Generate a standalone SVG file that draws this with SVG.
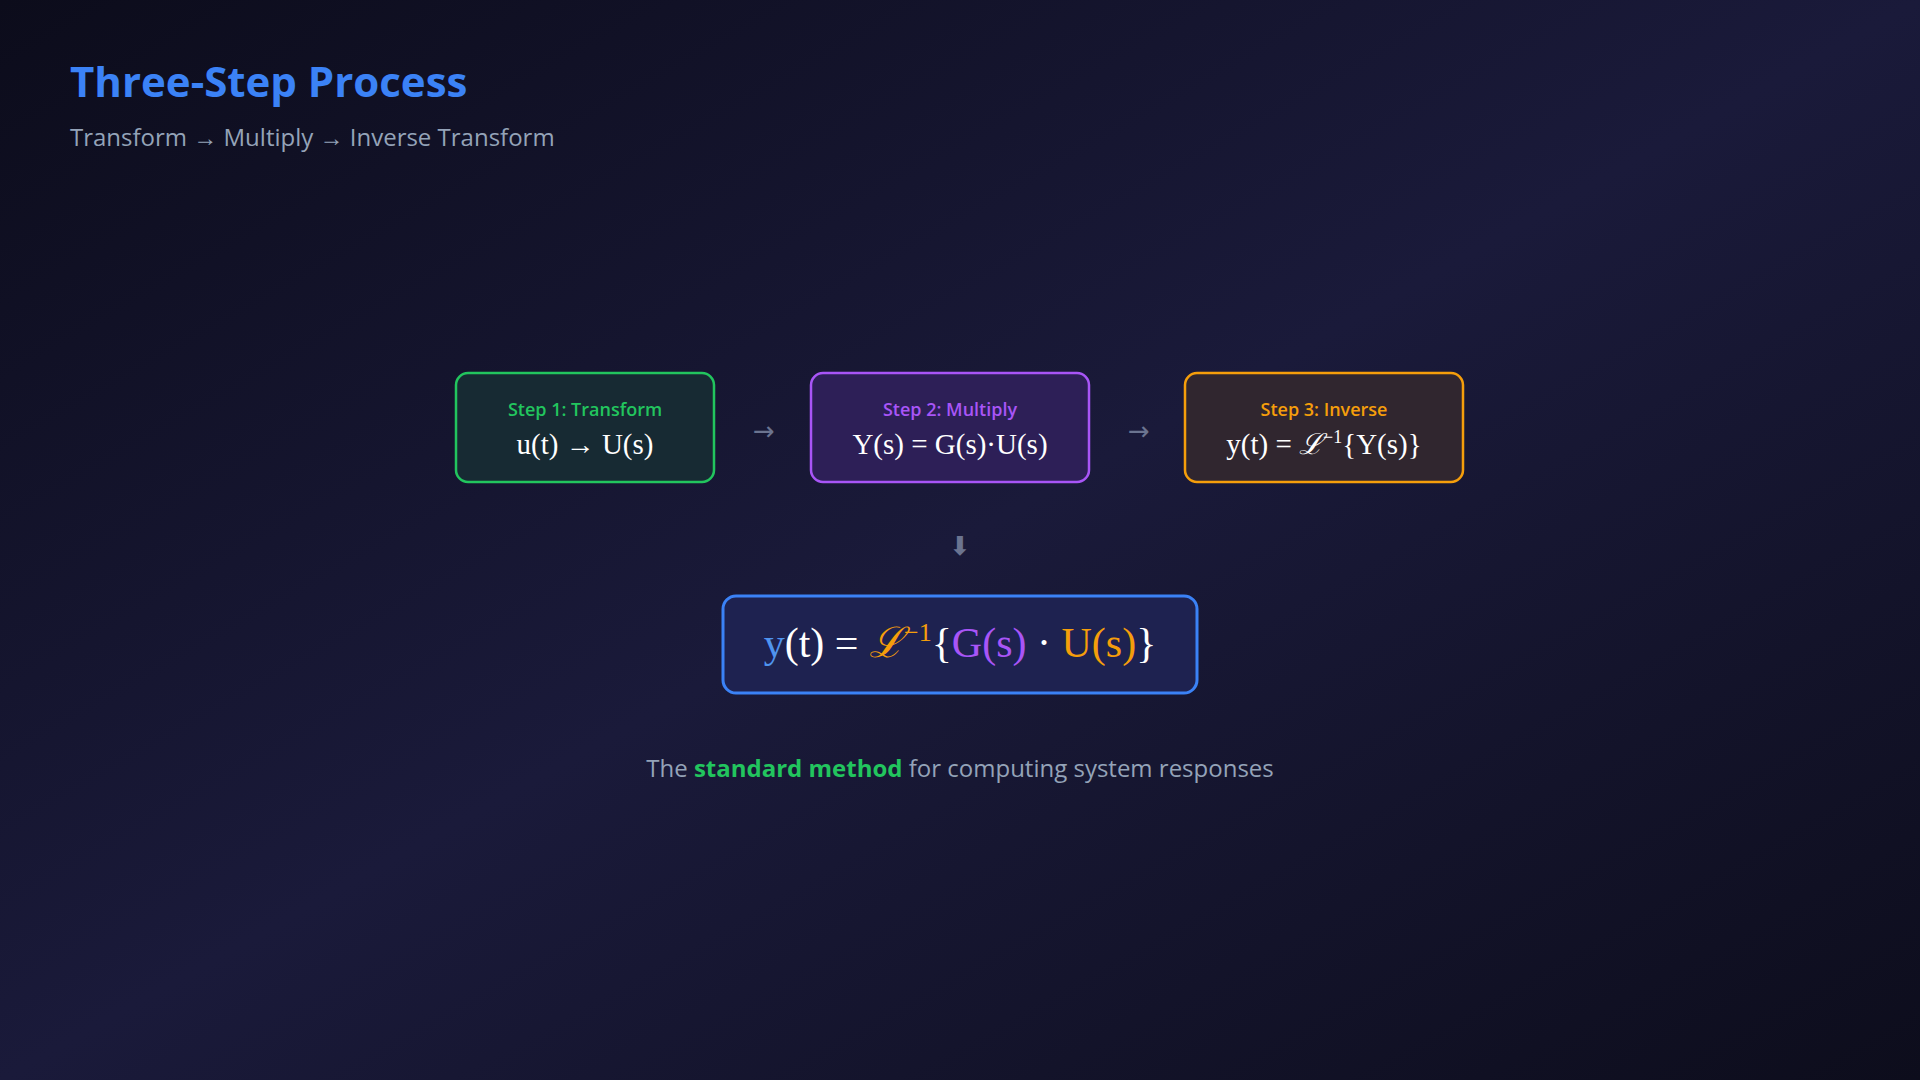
<svg xmlns="http://www.w3.org/2000/svg" width="1920" height="1080" viewBox="0 0 1920 1080">
  <defs>
    <linearGradient id="bg" x1="0" y1="0" x2="1" y2="1">
      <stop offset="0" stop-color="#0c0c1b"/>
      <stop offset="0.5" stop-color="#1a1a3a"/>
      <stop offset="1" stop-color="#0d0d1c"/>
    </linearGradient>
    <style>
      .title{font-family:"Open Sans","Noto Sans","Liberation Sans",sans-serif;font-weight:700;font-size:42px;fill:#3b82f6}
      .sub{font-family:"Open Sans","Noto Sans","Liberation Sans",sans-serif;font-size:24px;fill:#94a3b8}
      .lbl{font-family:"Open Sans","Noto Sans","Liberation Sans",sans-serif;font-weight:600;font-size:18px;text-anchor:middle}
      .math{font-family:"Liberation Serif","DejaVu Serif",serif;font-size:29px;fill:#ffffff;text-anchor:middle}
      .big{font-family:"Liberation Serif","DejaVu Serif",serif;font-size:42px;fill:#ffffff;text-anchor:middle}
      .conn{font-family:"DejaVu Sans","Noto Sans",sans-serif;font-size:26px;fill:#6b7490;text-anchor:middle}
      .foot{font-family:"Open Sans","Noto Sans","Liberation Sans",sans-serif;font-size:24px;fill:#94a3b8;text-anchor:middle}
      .box{stroke-width:2.5}
    </style>
  </defs>
  <rect width="1920" height="1080" fill="url(#bg)"/>

  <g id="header">
    <text class="title" x="70" y="97">Three-Step Process</text>
    <text class="sub" x="70" y="146">Transform → Multiply → Inverse Transform</text>
  </g>

  <g id="step1">
    <rect class="box" x="456" y="373" width="258" height="109" rx="12" fill="#172a33" stroke="#22c55e"/>
    <text class="lbl" x="585" y="416" fill="#22c55e">Step 1: Transform</text>
    <text class="math" x="585" y="454">u(t) → U(s)</text>
  </g>

  <g id="step2">
    <rect class="box" x="811" y="373" width="278" height="109" rx="12" fill="#2d1f57" stroke="#a855f7"/>
    <text class="lbl" x="950" y="416" fill="#a855f7">Step 2: Multiply</text>
    <text class="math" x="950" y="454">Y(s) = G(s)·U(s)</text>
  </g>

  <g id="step3">
    <rect class="box" x="1185" y="373" width="278" height="109" rx="12" fill="#30262f" stroke="#f59e0b"/>
    <text class="lbl" x="1324" y="416" fill="#f59e0b">Step 3: Inverse</text>
    <text class="math" x="1324" y="454">y(t) = <tspan font-style="italic">ℒ</tspan><tspan dy="-11" font-size="18">−1</tspan><tspan dy="11">{Y(s)}</tspan></text>
  </g>

  <g id="connectors">
    <text class="conn" x="764" y="440">→</text>
    <text class="conn" x="1139" y="440">→</text>
    <text class="conn" x="960" y="555" font-size="20">⬇</text>
  </g>

  <g id="result">
    <rect x="723" y="596" width="474" height="97" rx="13" fill="#1e2250" stroke="#3b82f6" stroke-width="3"/>
    <text class="big" x="960" y="657"><tspan fill="#4f94ef">y</tspan>(t) = <tspan fill="#f59e0b" font-style="italic">ℒ</tspan><tspan fill="#f59e0b" dy="-16" font-size="26">−1</tspan><tspan dy="16">{</tspan><tspan fill="#a855f7">G(s)</tspan> · <tspan fill="#f59e0b">U(s)</tspan>}</text>
  </g>

  <g id="caption">
    <text class="foot" x="960" y="777">The <tspan fill="#22c55e" font-weight="700">standard method</tspan> for computing system responses</text>
  </g>
</svg>
